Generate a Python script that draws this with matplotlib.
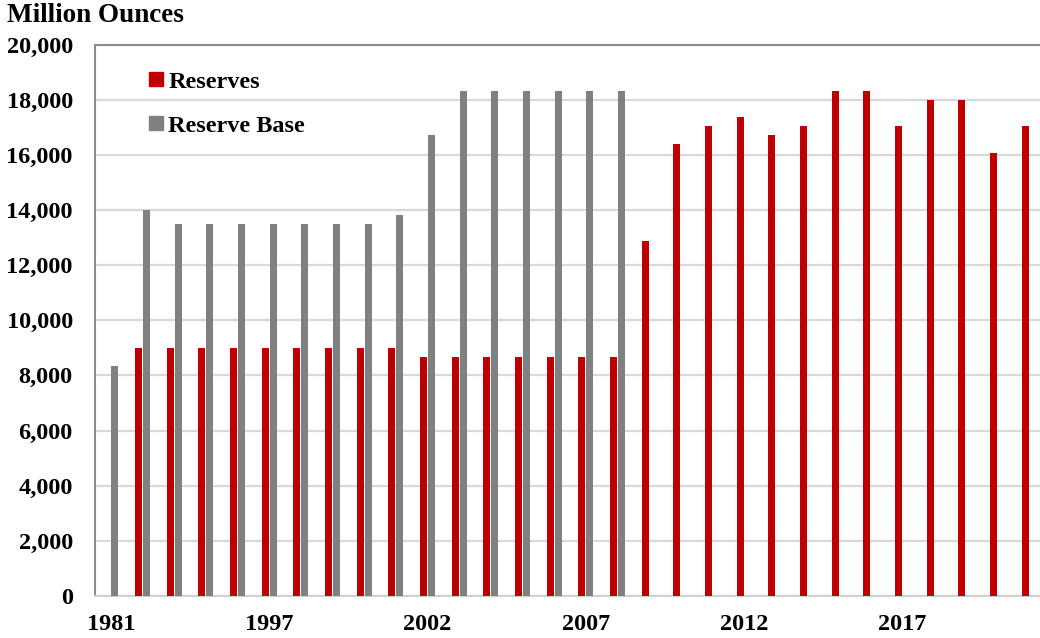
import matplotlib
matplotlib.use("Agg")
import matplotlib.pyplot as plt
import numpy as np
from matplotlib.patches import Patch

# Category labels (1981 then annual from 1993)
years = ["1981"] + [str(y) for y in range(1993, 2022)]

# Million ounces; None where the series has no value
reserves = [None,
            9002, 9002, 9002, 9002, 9002, 9002, 9002, 9002, 9002,
            8681, 8681, 8681, 8681, 8681, 8681, 8681,
            12860, 16397, 17040, 17361, 16718, 17040, 18326, 18326,
            17040, 18004, 18004, 16075, 17040]
reserve_base = [8359,
                13985, 13503, 13503, 13503, 13503, 13503, 13503, 13503, 13825,
                16718, 18326, 18326, 18326, 18326, 18326, 18326,
                None, None, None, None, None, None, None, None,
                None, None, None, None, None]

RED = "#c00000"
GRAY = "#808080"
FONT = "Liberation Serif"
FS = 17.5

W, H = 1040, 638
fig = plt.figure(figsize=(W / 100, H / 100), dpi=100)
ax = fig.add_axes([95 / W, 1 - 596 / H, 950 / W, (596 - 44.5) / H])

x = np.arange(len(years))
bw = 0.22
r_idx = [i for i, v in enumerate(reserves) if v is not None]
g_idx = [i for i, v in enumerate(reserve_base) if v is not None]
ax.bar(x[r_idx] - 0.125, [reserves[i] for i in r_idx], width=bw,
       color=RED, zorder=3)
ax.bar(x[g_idx] + 0.125, [reserve_base[i] for i in g_idx], width=bw,
       color=GRAY, zorder=3)

ax.set_xlim(-0.5, len(years) - 0.5)
ax.set_ylim(0, 20000)
ax.set_yticks(np.arange(0, 20001, 2000))
ax.set_yticklabels([f"{v:,}" for v in range(0, 20001, 2000)])
ax.set_xticks(x[::5])
ax.set_xticklabels(years[::5])

ax.grid(axis="y", color="#d9d9d9", linewidth=1.6, zorder=0)
ax.tick_params(length=0, labelsize=FS)
ax.tick_params(axis="y", pad=16)
ax.tick_params(axis="x", pad=13)
for lab in ax.get_xticklabels() + ax.get_yticklabels():
    lab.set_fontfamily(FONT)
    lab.set_fontweight("bold")

ax.spines["top"].set_color("#8c8c8c")
ax.spines["left"].set_color("#8c8c8c")
ax.spines["bottom"].set_color("#d0d0d0")
ax.spines["right"].set_visible(False)
for s in ("top", "left", "bottom"):
    ax.spines[s].set_linewidth(1.5)

fig.text(7 / W, 1 - 16 / H, "Million Ounces", fontfamily=FONT,
         fontweight="bold", fontsize=19.5, va="center", ha="left")

handles = [Patch(color=RED, label="Reserves"),
           Patch(color=GRAY, label="Reserve Base")]
ax.legend(handles=handles, loc="upper left", bbox_to_anchor=(0.057, 0.951),
          frameon=False, borderpad=0, borderaxespad=0,
          handlelength=0.58, handleheight=0.5,
          handletextpad=0.2, labelspacing=0.95,
          prop={"family": FONT, "weight": "bold", "size": FS})

fig.savefig("out.png", dpi=100)
